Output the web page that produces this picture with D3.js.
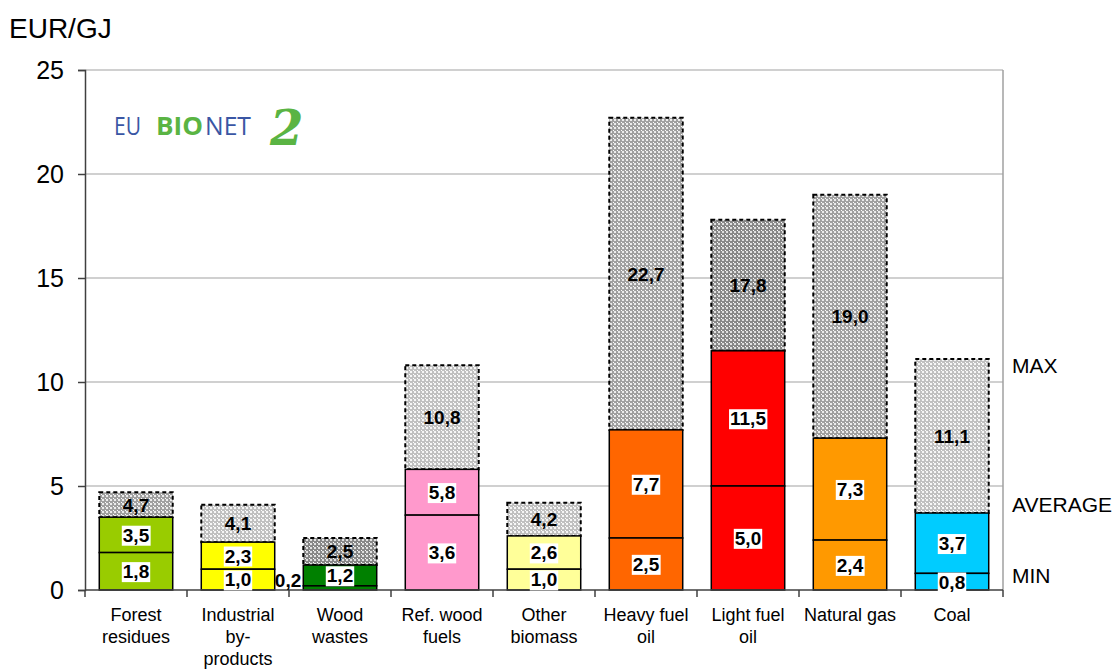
<!DOCTYPE html>
<html>
<head>
<meta charset="utf-8">
<script src="https://cdn.jsdelivr.net/npm/d3@7"></script>
<style>
  body { margin: 0; background: #fff; }
  svg { font-family: Arial, "Liberation Sans", sans-serif; }
</style>
</head>
<body>
<div id="chart"></div>
<script>
// fuel prices, EUR/GJ
const categories = ['Forest residues', 'Industrial by-products', 'Wood wastes', 'Ref. wood fuels',
    'Other biomass', 'Heavy fuel oil', 'Light fuel oil', 'Natural gas', 'Coal'];
const labelLines = [['Forest', 'residues'], ['Industrial', 'by-', 'products'], ['Wood', 'wastes'],
    ['Ref. wood', 'fuels'], ['Other', 'biomass'], ['Heavy fuel', 'oil'], ['Light fuel', 'oil'],
    ['Natural gas'], ['Coal']];
const minValues = [1.8, 1.0, 0.2, 3.6, 1.0, 2.5, 5.0, 2.4, 0.8];
const avgValues = [3.5, 2.3, 1.2, 5.8, 2.6, 7.7, 11.5, 7.3, 3.7];
const maxValues = [4.7, 4.1, 2.5, 10.8, 4.2, 22.7, 17.8, 19.0, 11.1];
const yTicks = [0, 5, 10, 15, 20, 25];

const colors = ['#99cc00', '#ffff00', '#008000', '#ff99cc', '#ffff99', '#ff6600', '#ff0000', '#ff9900', '#00ccff'];
const shades = ['mid', 'light', 'dark', 'light', 'light', 'mid', 'dark', 'mid', 'light'];

const svgWidth = 1113;
const svgHeight = 669;
const margin = { top: 70, left: 85, right: 110, bottom: 79 };
const width = svgWidth - margin.left - margin.right;
const height = svgHeight - margin.top - margin.bottom;

const svg = d3.select('#chart').append('svg')
    .attr('width', svgWidth)
    .attr('height', svgHeight);

// grey hatch patterns for the max part
const defs = svg.append('defs');
const patternColors = { dark: ['#888888', '#e0e0e0'], mid: ['#a0a0a0', '#ececec'], light: ['#c0c0c0', '#f6f6f6'] };
Object.keys(patternColors).forEach(k => {
    const p = defs.append('pattern')
        .attr('id', 'pat-' + k)
        .attr('patternUnits', 'userSpaceOnUse')
        .attr('width', 4).attr('height', 4);
    p.append('rect').attr('width', 4).attr('height', 4).attr('fill', patternColors[k][0]);
    p.append('rect').attr('x', 1).attr('y', 1).attr('width', 2).attr('height', 2).attr('fill', patternColors[k][1]);
    p.append('rect').attr('x', 0).attr('y', 0).attr('width', 1).attr('height', 1).attr('fill', '#ffffff');
});

const g = svg.append('g').attr('transform', 'translate(' + margin.left + ',' + margin.top + ')');

const x = d3.scaleBand()
    .domain(categories)
    .range([0, width])
    .paddingInner(0.28)
    .paddingOuter(0.14);
const y = d3.scaleLinear()
    .domain([0, 25])
    .range([height, 0]);

// gridlines
g.append('g')
    .selectAll('line')
    .data(yTicks.filter(t => t > 0))
    .enter()
    .append('line')
    .attr('x1', 0).attr('x2', width)
    .attr('y1', d => y(d)).attr('y2', d => y(d))
    .attr('stroke', '#c0c0c0').attr('stroke-width', 1.5);

// right border
g.append('line')
    .attr('x1', width).attr('x2', width)
    .attr('y1', 0).attr('y2', height)
    .attr('stroke', '#a0a0a0').attr('stroke-width', 1.5);

// y axis
const yAxis = d3.axisLeft(y).tickValues(yTicks).tickSize(7).tickPadding(14);
const gY = g.append('g').call(yAxis);
gY.select('.domain').attr('stroke', '#404040').attr('stroke-width', 1.5);
gY.selectAll('.tick line').attr('stroke', '#404040').attr('stroke-width', 1.5);
gY.selectAll('.tick text').attr('font-size', 25).attr('fill', '#000').attr('font-family', 'Arial, "Liberation Sans", sans-serif');

svg.append('text')
    .attr('x', 9).attr('y', 38)
    .attr('font-size', 28)
    .text('EUR/GJ');

const step = x.step();
const bw = x.bandwidth();

const bars = g.append('g')
    .selectAll('g')
    .data(categories)
    .enter()
    .append('g');

// max (grey) part
bars.append('rect')
    .attr('x', d => x(d))
    .attr('width', bw)
    .attr('y', (d, i) => y(maxValues[i]))
    .attr('height', (d, i) => y(avgValues[i]) - y(maxValues[i]))
    .attr('fill', (d, i) => 'url(#pat-' + shades[i] + ')')
    .attr('stroke', '#000')
    .attr('stroke-width', 2)
    .attr('stroke-dasharray', '4,3');

// average part
bars.append('rect')
    .attr('x', d => x(d))
    .attr('width', bw)
    .attr('y', (d, i) => y(avgValues[i]))
    .attr('height', (d, i) => y(minValues[i]) - y(avgValues[i]))
    .attr('fill', (d, i) => colors[i])
    .attr('stroke', '#000')
    .attr('stroke-width', 1.5);

// min part
bars.append('rect')
    .attr('x', d => x(d))
    .attr('width', bw)
    .attr('y', (d, i) => y(minValues[i]))
    .attr('height', (d, i) => y(0) - y(minValues[i]))
    .attr('fill', (d, i) => colors[i])
    .attr('stroke', '#000')
    .attr('stroke-width', 1.5);

// x axis
const gX = g.append('g').attr('transform', 'translate(0,' + height + ')');
gX.append('line')
    .attr('x1', 0).attr('x2', width)
    .attr('stroke', '#404040').attr('stroke-width', 1.5);
gX.selectAll('line.tick')
    .data(d3.range(categories.length + 1))
    .enter()
    .append('line')
    .attr('class', 'tick')
    .attr('x1', i => i * step).attr('x2', i => i * step)
    .attr('y1', 0).attr('y2', 7)
    .attr('stroke', '#404040').attr('stroke-width', 1.5);

const xl = gX.selectAll('text')
    .data(categories)
    .enter()
    .append('text')
    .attr('text-anchor', 'middle')
    .attr('font-size', 18)
    .attr('transform', d => 'translate(' + (x(d) + bw / 2) + ',31)');
xl.selectAll('tspan')
    .data((d, i) => labelLines[i])
    .enter()
    .append('tspan')
    .attr('x', 0)
    .attr('dy', (d, i) => i === 0 ? 0 : 22)
    .text(d => d);

// value labels
function fmt(v) { return v.toFixed(1).replace('.', ','); }

function addLabel(cx, cy, value, boxed, anchor) {
    const t = g.append('text')
        .attr('x', cx).attr('y', cy)
        .attr('dy', '0.36em')
        .attr('text-anchor', anchor || 'middle')
        .attr('font-size', 19)
        .attr('font-weight', 'bold')
        .text(fmt(value));
    if (boxed) {
        const bb = t.node().getBBox();
        g.insert('rect', () => t.node())
            .attr('x', bb.x - 1).attr('y', bb.y + 1)
            .attr('width', bb.width + 2).attr('height', bb.height - 1)
            .attr('fill', '#fff');
    }
}

categories.forEach((c, i) => {
    const cx = x(c) + bw / 2;
    const minH = y(0) - y(minValues[i]);
    if (minH < 12) {
        addLabel(x(c) - 2, (y(0) + y(minValues[i])) / 2 - 8, minValues[i], false, 'end');
    } else {
        addLabel(cx, (y(0) + y(minValues[i])) / 2, minValues[i], true);
    }
    addLabel(cx, (y(minValues[i]) + y(avgValues[i])) / 2, avgValues[i], true);
    addLabel(cx, (y(avgValues[i]) + y(maxValues[i])) / 2, maxValues[i], false);
});

// right side legend
const legendItems = [['MAX', 10.8], ['AVERAGE', 4.1], ['MIN', 0.7]];
g.selectAll('text.legend')
    .data(legendItems)
    .enter()
    .append('text')
    .attr('class', 'legend')
    .attr('x', width + 9)
    .attr('y', d => y(d[1]))
    .attr('dy', '0.36em')
    .attr('font-size', 21)
    .text(d => d[0]);

// logo
const logoParts = [['EU', 114, 27, '#3a56a4', 'normal'], ['BIO', 156, 47, '#5ab443', 'bold'], ['NET', 205, 46, '#3a56a4', 'normal']];
svg.selectAll('text.logo')
    .data(logoParts)
    .enter()
    .append('text')
    .attr('class', 'logo')
    .attr('x', d => d[1])
    .attr('y', 135)
    .attr('font-family', '"Open Sans", "DejaVu Sans", sans-serif')
    .attr('font-size', 25)
    .attr('font-weight', d => d[4])
    .attr('fill', d => d[3])
    .attr('textLength', d => d[2])
    .attr('lengthAdjust', 'spacingAndGlyphs')
    .text(d => d[0]);
svg.append('text')
    .attr('x', 270).attr('y', 145)
    .attr('font-family', '"DejaVu Serif", serif')
    .attr('font-style', 'italic')
    .attr('font-weight', 'bold')
    .attr('font-size', 48)
    .attr('fill', '#5ab443')
    .text('2');
</script>
</body>
</html>
